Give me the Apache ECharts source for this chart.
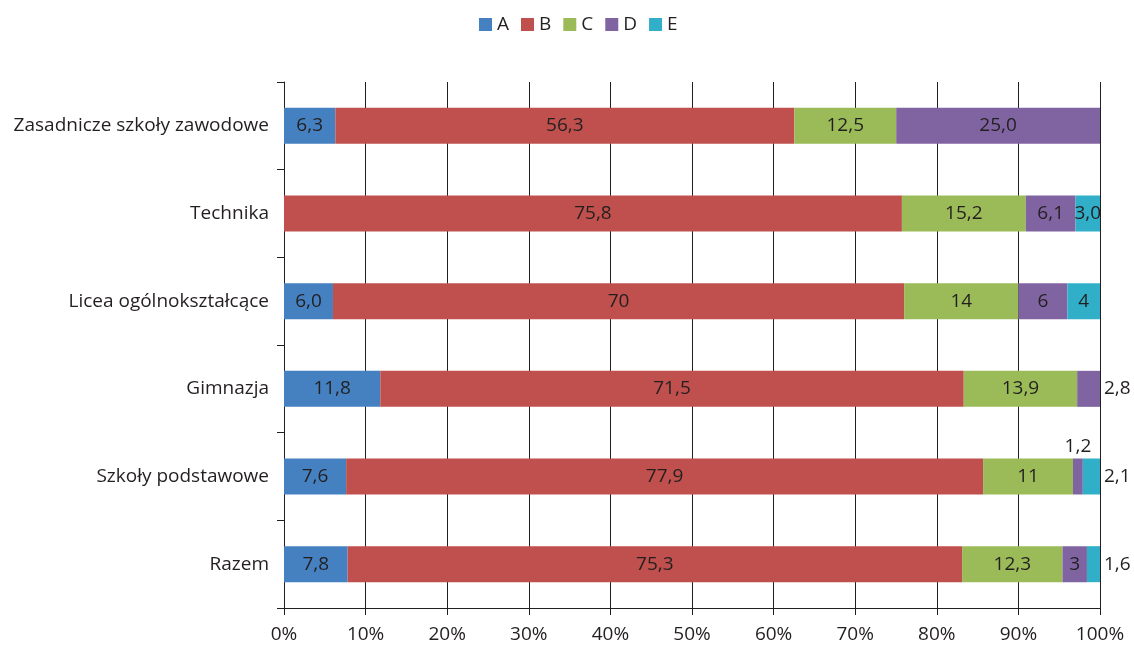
<!DOCTYPE html>
<html>
<head>
<meta charset="utf-8">
<script src="https://cdn.jsdelivr.net/npm/echarts@6/dist/echarts.min.js"></script>
<style>html,body{margin:0;padding:0;background:#fff}#c{width:1134px;height:645px}</style>
</head>
<body>
<div id="c"></div>
<script>
const categories = ['Razem', 'Szkoły podstawowe', 'Gimnazja', 'Licea ogólnokształcące', 'Technika', 'Zasadnicze szkoły zawodowe'];
const seriesNames = ['A', 'B', 'C', 'D', 'E'];
const valuesA = [7.8, 7.6, 11.8, 6.0, 0, 6.3];
const valuesB = [75.3, 77.9, 71.5, 70, 75.8, 56.3];
const valuesC = [12.3, 11, 13.9, 14, 15.2, 12.5];
const valuesD = [3, 1.2, 2.8, 6, 6.1, 25.0];
const valuesE = [1.6, 2.1, 0, 4, 3.0, 0];
const labelsA = ['7,8', '7,6', '11,8', '6,0', '', '6,3'];
const labelsB = ['75,3', '77,9', '71,5', '70', '75,8', '56,3'];
const labelsC = ['12,3', '11', '13,9', '14', '15,2', '12,5'];
const labelsD = ['3', '1,2', '2,8', '6', '6,1', '25,0'];
const labelsE = ['1,6', '2,1', '', '4', '3,0', ''];
const xTicks = [0, 10, 20, 30, 40, 50, 60, 70, 80, 90, 100];

const allValues = [valuesA, valuesB, valuesC, valuesD, valuesE];
const allLabels = [labelsA, labelsB, labelsC, labelsD, labelsE];
const colors = ['#4581C0', '#C0504D', '#9BBB59', '#8064A2', '#31AFC8'];
const FONT = 'Open Sans';
const FS = 19;
const TXT = '#231f20';
const labelPos = [
  ['inside','inside','inside','inside','inside','inside'],
  ['inside','inside','inside','inside','inside','inside'],
  ['inside','inside','inside','inside','inside','inside'],
  ['inside','top','right','inside','inside','inside'],
  ['right','right','inside','inside','inside','inside']
];
const rowSums = categories.map((_, i) => allValues.reduce((s, arr) => s + arr[i], 0));

const series = seriesNames.map((name, si) => ({
  name: name,
  type: 'bar',
  stack: 'total',
  barWidth: 36,
  itemStyle: { color: colors[si] },
  data: allValues[si].map((v, i) => ({
    value: v / rowSums[i] * 100,
    label: {
      show: allLabels[si][i] !== '',
      position: labelPos[si][i],
      distance: labelPos[si][i] === 'top' ? 2 : 4,
      formatter: allLabels[si][i]
    }
  })),
  label: { color: TXT, fontFamily: FONT, fontSize: FS }
}));

const chart = echarts.init(document.getElementById('c'));
chart.setOption({
  animation: false,
  color: colors,
  legend: {
    top: 10, left: 474,
    itemWidth: 13, itemHeight: 13, itemGap: 12,
    icon: 'rect',
    textStyle: { fontFamily: FONT, fontSize: FS, color: TXT },
    data: seriesNames
  },
  grid: { left: 284, right: 34, top: 82, bottom: 37 },
  xAxis: {
    type: 'value', min: xTicks[0], max: xTicks[xTicks.length - 1], interval: xTicks[1] - xTicks[0],
    axisLine: { show: true, lineStyle: { color: TXT, width: 1 } },
    axisTick: { show: true, length: 7, lineStyle: { color: TXT } },
    splitLine: { show: true, lineStyle: { color: TXT, width: 1 } },
    axisLabel: { formatter: '{value}%', fontFamily: FONT, fontSize: FS, color: TXT, margin: 17 }
  },
  yAxis: {
    type: 'category', data: categories,
    axisLine: { show: true, lineStyle: { color: TXT, width: 1 } },
    axisTick: { show: true, length: 7, lineStyle: { color: TXT } },
    axisLabel: { fontFamily: FONT, fontSize: FS, color: TXT, margin: 15 }
  },
  series: series
});
</script>
</body>
</html>
